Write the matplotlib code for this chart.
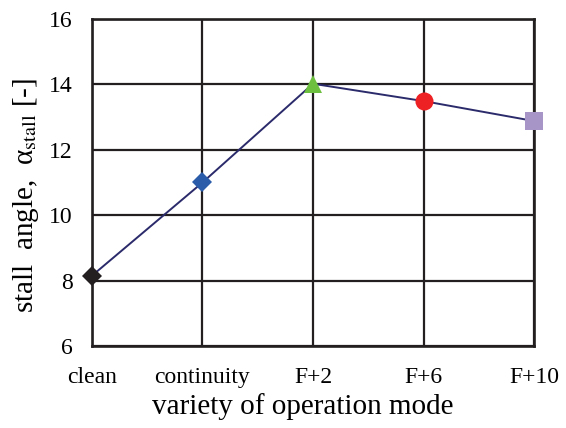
import matplotlib

matplotlib.use("Agg")

import matplotlib.pyplot as plt

categories = ["clean", "continuity", "F+2", "F+6", "F+10"]
stall_angle = [8.15, 11.0, 14.02, 13.49, 12.88]
marker_shapes = ["D", "D", "^", "o", "s"]
marker_colors = ["#231f20", "#2a5caa", "#6cbf3f", "#ed2024", "#a895c8"]
marker_sizes = [10, 10, 13, 13, 13]

plt.rcParams["font.family"] = ["Liberation Serif", "DejaVu Serif"]
plt.rcParams["mathtext.fontset"] = "stix"

fig = plt.figure(figsize=(5.66, 4.28), dpi=100)
ax = fig.add_axes([0.1625, 0.1916, 0.781, 0.764])

x = list(range(len(categories)))
ax.plot(x, stall_angle, color="#2b2a6b", lw=1.4, zorder=3, clip_on=False)
for xi, yi, m, c, s in zip(x, stall_angle, marker_shapes, marker_colors, marker_sizes):
    ax.plot(xi, yi, marker=m, color=c, markersize=s, markeredgewidth=0,
            zorder=4, clip_on=False, linestyle="none")

ax.set_xlim(0, 4)
ax.set_ylim(6, 16)
ax.set_yticks([6, 8, 10, 12, 14, 16])
ax.set_xticks(x)
ax.set_xticklabels(categories)
ax.grid(True, color="#231f20", lw=1.6)
ax.set_axisbelow(True)
for sp in ax.spines.values():
    sp.set_color("#231f20")
    sp.set_linewidth(1.9)
ax.tick_params(axis="both", length=0, labelsize=17)
ax.tick_params(axis="y", pad=14)
ax.tick_params(axis="x", pad=15)

ax.set_xlabel("variety of operation mode", fontsize=21)
ax.set_ylabel("stall  angle,  α$_{\\mathrm{stall}}$ [-]", fontsize=21)
ax.xaxis.set_label_coords(0.476, -0.145)
ax.yaxis.set_label_coords(-0.115, 0.46)

fig.savefig("out.png", dpi=100)
